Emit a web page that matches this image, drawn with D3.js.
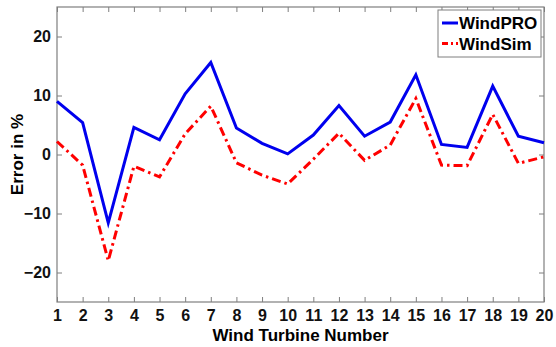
<!DOCTYPE html>
<html>
<head>
<meta charset="utf-8">
<script src="https://cdn.jsdelivr.net/npm/d3@7"></script>
<style>
  body { margin: 0; background: #fff; }
  text { font-family: "Liberation Sans", Arial, sans-serif; font-weight: bold; }
</style>
</head>
<body>
<svg id="chart" width="556" height="347"></svg>
<script>
// turbine numbers and errors (%)
var turbines = d3.range(1, 21);
var windPRO = [9.0, 5.4, -11.6, 4.6, 2.5, 10.3, 15.6, 4.5, 1.9, 0.1, 3.3, 8.3, 3.1, 5.5, 13.5, 1.7, 1.2, 11.6, 3.1, 2.0];
var windSim = [2.2, -1.8, -18.0, -2.0, -3.8, 3.5, 8.2, -1.4, -3.5, -5.0, -0.8, 3.6, -1.0, 1.6, 9.5, -1.8, -1.9, 6.8, -1.5, -0.4];
var yTicks = [-20, -10, 0, 10, 20];

var margin = { top: 7, right: 12, bottom: 45, left: 57 };
var width = 556 - margin.left - margin.right,
    height = 347 - margin.top - margin.bottom;

var svg = d3.select('#chart');
var g = svg.append('g')
    .attr('transform', 'translate(' + margin.left + ',' + margin.top + ')');

var x = d3.scaleLinear().domain([1, 20]).range([0, width]);
var y = d3.scaleLinear().domain([-25, 25]).range([height, 0]);

var axisColor = '#7f7f7f';

// axes (ticks inward, mirrored on top/right)
function styleAxis(sel, showText) {
    sel.select('.domain').remove();
    sel.selectAll('line').attr('stroke', axisColor).attr('stroke-width', 1);
    sel.selectAll('text')
        .attr('fill', '#111')
        .style('font-size', '16px')
        .style('display', showText ? null : 'none');
}

g.append('g')
    .attr('transform', 'translate(0,' + height + ')')
    .call(d3.axisBottom(x).tickValues(turbines).tickFormat(d3.format('d')).tickSizeInner(-5).tickSizeOuter(0).tickPadding(8))
    .call(styleAxis, true);

g.append('g')
    .call(d3.axisTop(x).tickValues(turbines).tickSizeInner(-5).tickSizeOuter(0))
    .call(styleAxis, false);

g.append('g')
    .call(d3.axisLeft(y).tickValues(yTicks).tickSizeInner(-5).tickSizeOuter(0).tickPadding(6))
    .call(styleAxis, true);

g.append('g')
    .attr('transform', 'translate(' + width + ',0)')
    .call(d3.axisRight(y).tickValues(yTicks).tickSizeInner(-5).tickSizeOuter(0))
    .call(styleAxis, false);

// frame
g.append('rect')
    .attr('width', width)
    .attr('height', height)
    .attr('fill', 'none')
    .attr('stroke', axisColor)
    .attr('stroke-width', 1.2);

// data lines
var line = d3.line()
    .x((d, i) => x(turbines[i]))
    .y(d => y(d));

g.append('path')
    .datum(windSim)
    .attr('d', line)
    .attr('fill', 'none')
    .attr('stroke', '#ff0000')
    .attr('stroke-width', 3)
    .attr('stroke-dasharray', '9,4,2.5,4');

g.append('path')
    .datum(windPRO)
    .attr('d', line)
    .attr('fill', 'none')
    .attr('stroke', '#0000ee')
    .attr('stroke-width', 3);

// axis titles
svg.append('text')
    .attr('x', margin.left + width / 2)
    .attr('y', 341)
    .attr('text-anchor', 'middle')
    .style('font-size', '17px')
    .text('Wind Turbine Number');

svg.append('text')
    .attr('transform', 'translate(23,' + (margin.top + height / 2) + ') rotate(-90)')
    .attr('text-anchor', 'middle')
    .style('font-size', '17px')
    .text('Error in %');

// legend
var legend = svg.append('g').attr('transform', 'translate(438,10)');
legend.append('rect')
    .attr('width', 103)
    .attr('height', 47)
    .attr('fill', '#fff')
    .attr('stroke', axisColor);

var legendItems = [
    { name: 'WindPRO', color: '#0000ee', dash: null },
    { name: 'WindSim', color: '#ff0000', dash: '6,3,2,3' }
];

var item = legend.selectAll('g.item')
    .data(legendItems)
    .enter().append('g')
    .attr('class', 'item')
    .attr('transform', (d, i) => 'translate(0,' + (13 + i * 20.5) + ')');

item.append('line')
    .attr('x1', 4)
    .attr('x2', 20)
    .attr('stroke', d => d.color)
    .attr('stroke-width', 3)
    .attr('stroke-dasharray', d => d.dash);

item.append('text')
    .attr('x', 21)
    .attr('dy', '0.36em')
    .style('font-size', '17px')
    .text(d => d.name);
</script>
</body>
</html>
